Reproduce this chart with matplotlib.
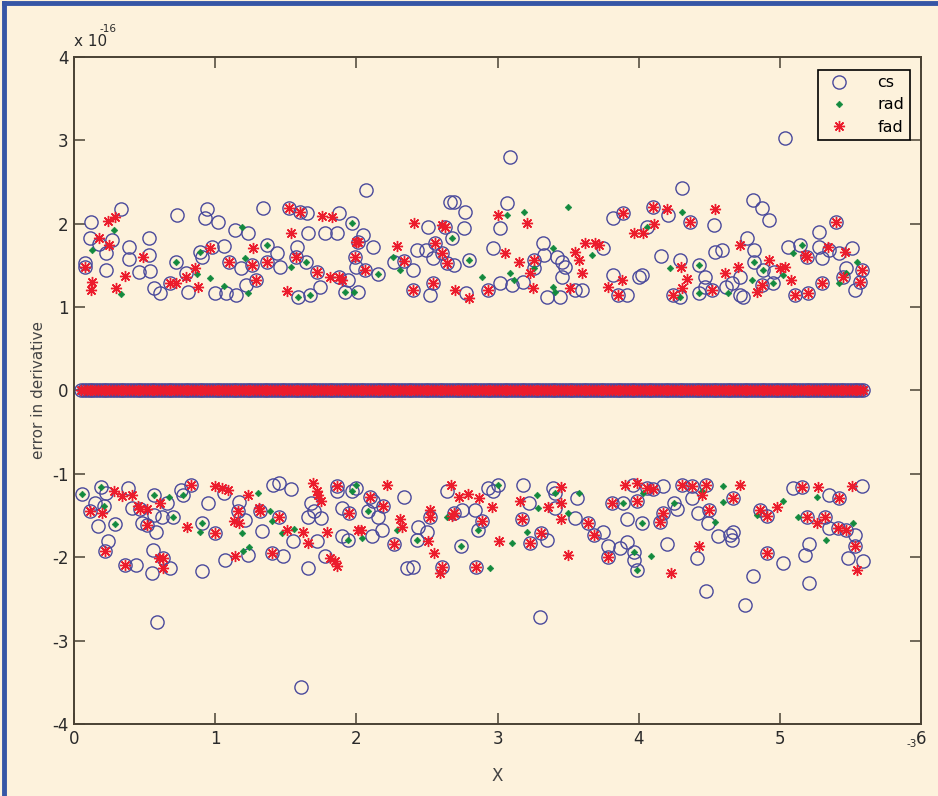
import numpy as np
import matplotlib
matplotlib.use("Agg")
import matplotlib.pyplot as plt
from matplotlib.lines import Line2D

# x in units of 1e-3, y in units of 1e-16
x_zero_grid = np.arange(0.05, 5.61, 0.02)  # sample points where the error is exactly zero

cs_pts = [
    (0.12,2.02),(0.33,2.18),(0.11,1.83),(0.08,1.53),(0.08,1.48),(0.23,1.65),(0.23,1.44),(0.27,1.80),(0.39,1.72),(0.39,1.58),
    (0.53,1.83),(0.53,1.62),(0.46,1.42),(0.54,1.43),(0.57,1.23),(0.61,1.17),(0.73,2.10),(0.72,1.54),(0.79,1.41),(0.81,1.18),
    (0.68,1.29),(0.94,2.18),(0.93,2.07),(1.02,2.02),(0.89,1.66),(0.91,1.60),(0.98,1.72),(1.06,1.73),(1.00,1.17),(1.08,1.17),
    (1.15,1.15),(1.14,1.93),(1.23,1.89),(1.10,1.54),(1.18,1.47),(1.26,1.50),(1.22,1.26),(1.29,1.33),(1.34,2.19),(1.37,1.74),
    (1.44,1.65),(1.37,1.54),(1.46,1.48),(1.52,2.19),(1.60,2.14),(1.65,2.13),(1.58,1.72),(1.57,1.60),(1.66,1.89),(1.64,1.54),
    (1.59,1.12),(1.67,1.15),(1.74,1.24),(1.72,1.42),(1.78,1.89),(1.86,1.89),(1.88,2.13),(1.97,2.01),(1.88,1.36),(1.94,1.32),
    (1.92,1.18),(1.99,1.60),(2.00,1.48),(0.18,1.76),
    (2.07,2.40),(2.05,1.86),(2.01,1.78),(2.12,1.72),(2.06,1.44),(2.15,1.40),(2.01,1.18),(2.27,1.54),(2.34,1.55),(2.40,1.44),
    (2.43,1.68),(2.49,1.68),(2.54,1.59),(2.51,1.96),(2.56,1.77),(2.61,1.65),(2.64,1.53),(2.69,1.51),(2.66,2.26),(2.69,2.26),
    (2.77,2.14),(2.76,1.95),(2.63,1.96),(2.68,1.83),(2.54,1.29),(2.40,1.21),(2.52,1.15),(2.80,1.56),(2.78,1.17),(2.93,1.20),
    (2.97,1.71),(3.02,1.95),(3.07,2.25),(3.09,2.80),(3.02,1.29),(3.10,1.26),(3.18,1.30),(3.26,1.56),(3.32,1.77),(3.33,1.63),
    (3.26,1.47),(3.35,1.12),(3.44,1.12),(3.42,1.60),(3.46,1.54),(3.48,1.48),(3.46,1.36),(3.55,1.20),(3.60,1.20),(3.75,1.71),
    (3.82,2.07),(3.89,2.13),(3.82,1.38),(3.85,1.14),(3.92,1.14),(4.00,1.36),
    (5.04,3.03),(4.31,2.43),(4.10,2.20),(4.21,2.10),(4.36,2.02),(4.53,1.98),(4.06,1.96),(4.81,2.28),(4.87,2.19),(4.92,2.05),
    (5.40,2.02),(5.28,1.90),(4.77,1.83),(4.82,1.68),(4.54,1.66),(4.59,1.68),(4.16,1.61),(4.29,1.56),(4.43,1.50),(4.47,1.36),
    (5.06,1.72),(5.14,1.74),(5.28,1.72),(5.35,1.68),(5.42,1.65),(5.51,1.71),(5.30,1.59),(5.19,1.60),(4.82,1.54),(4.88,1.44),
    (4.96,1.42),(5.47,1.47),(5.45,1.36),(5.58,1.44),(5.57,1.30),(5.53,1.20),(5.30,1.29),(5.20,1.17),(5.11,1.15),(4.95,1.29),
    (4.87,1.26),(4.72,1.36),(4.66,1.29),(4.62,1.24),(4.72,1.15),(4.74,1.12),(4.52,1.20),(4.43,1.17),(4.47,1.24),(4.29,1.12),
    (4.24,1.15),(4.02,1.38),
    (0.06,-1.24),(0.19,-1.16),(0.23,-1.23),(0.15,-1.35),(0.21,-1.38),(0.11,-1.45),(0.17,-1.62),(0.24,-1.81),(0.22,-1.92),(0.29,-1.60),
    (0.36,-2.09),(0.44,-2.09),(0.38,-1.17),(0.41,-1.41),(0.47,-1.42),(0.48,-1.59),(0.52,-1.61),(0.58,-1.70),(0.56,-1.91),(0.55,-2.19),
    (0.63,-2.01),(0.68,-2.13),(0.59,-2.78),(0.57,-1.25),(0.66,-1.35),(0.62,-1.52),(0.57,-1.49),(0.70,-1.52),(0.76,-1.19),(0.77,-1.25),
    (0.83,-1.13),(0.95,-1.35),(0.91,-1.59),(0.91,-2.17),(1.00,-1.71),(1.06,-1.23),(1.07,-2.03),(1.17,-1.34),(1.16,-1.45),(1.21,-1.55),
    (1.33,-1.68),(1.23,-1.97),(1.32,-1.45),(1.41,-1.13),(1.45,-1.11),(1.54,-1.18),(1.45,-1.52),(1.55,-1.81),(1.40,-1.95),(1.48,-1.98),
    (1.66,-1.52),(1.70,-1.45),(1.75,-1.53),(1.72,-1.81),(1.66,-2.13),(1.68,-1.35),(1.78,-1.98),(1.86,-1.15),(1.86,-1.21),(1.90,-1.41),
    (1.95,-1.47),(1.90,-1.75),(1.97,-1.20),(1.94,-1.79),(1.61,-3.56),
    (2.00,-1.17),(2.08,-1.45),(2.10,-1.28),(2.12,-1.33),(2.19,-1.39),(2.15,-1.52),(2.18,-1.67),(2.11,-1.74),(2.27,-1.84),(2.34,-1.28),
    (2.36,-2.13),(2.40,-2.12),(2.43,-1.79),(2.44,-1.64),(2.50,-1.70),(2.52,-1.52),(2.61,-2.12),(2.64,-1.21),(2.69,-1.47),(2.75,-1.43),
    (2.74,-1.86),(2.84,-1.43),(2.89,-1.57),(2.86,-1.67),(2.85,-2.12),(2.93,-1.17),(3.00,-1.13),(2.97,-1.21),(3.18,-1.13),(3.17,-1.54),
    (3.22,-1.35),(3.23,-1.83),(3.31,-1.71),(3.35,-1.79),(3.30,-2.72),(3.39,-1.17),(3.41,-1.23),(3.41,-1.41),(3.56,-1.29),(3.55,-1.53),
    (3.64,-1.59),(3.68,-1.73),(3.75,-1.70),(3.78,-1.87),(3.87,-1.89),(3.78,-2.00),(3.81,-1.35),(3.89,-1.35),(3.96,-1.13),(3.99,-1.33),
    (3.92,-1.54),(3.92,-1.82),(3.97,-1.94),(3.97,-2.03),(3.99,-2.15),(4.02,-1.59),
    (4.06,-1.17),(4.10,-1.18),(4.17,-1.15),(4.15,-1.58),(4.17,-1.47),(4.25,-1.35),(4.27,-1.42),(4.20,-1.84),(4.31,-1.13),(4.38,-1.15),
    (4.38,-1.29),(4.48,-1.13),(4.42,-1.47),(4.49,-1.59),(4.50,-1.43),(4.41,-2.01),(4.48,-2.41),(4.56,-1.74),(4.65,-1.73),(4.67,-1.70),
    (4.66,-1.79),(4.67,-1.29),(4.75,-2.57),(4.81,-2.23),(4.86,-1.43),(4.91,-1.50),(4.91,-1.95),(5.02,-2.07),(5.09,-1.17),(5.16,-1.16),
    (5.19,-1.52),(5.21,-1.84),(5.18,-1.97),(5.21,-2.31),(5.32,-1.52),(5.35,-1.25),(5.42,-1.29),(5.35,-1.65),(5.41,-1.65),(5.47,-1.67),
    (5.53,-1.73),(5.53,-1.87),(5.48,-2.01),(5.59,-2.05),(5.58,-1.15),
]

rad_pts = [
    (0.72,1.54),(0.89,1.66),(1.37,1.74),(1.64,1.54),(1.59,1.12),(1.67,1.15),(1.97,2.01),(1.92,1.18),(2.15,1.40),(2.68,1.83),
    (2.80,1.56),(3.26,1.47),(4.06,1.96),(4.43,1.50),(4.82,1.54),(4.95,1.29),(4.43,1.17),(4.29,1.12),
    (0.28,1.93),(0.13,1.68),(0.33,1.16),(0.96,1.35),(1.06,1.25),(0.87,1.40),(1.21,1.59),(1.19,1.96),(1.23,1.17),(1.54,1.48),
    (1.98,1.18),(3.07,2.10),(3.19,2.14),(3.50,2.20),(2.89,1.36),(3.09,1.41),(2.26,1.60),(2.31,1.44),(3.39,1.24),(3.39,1.71),
    (3.67,1.63),(3.41,1.18),(3.12,1.32),(4.31,2.14),(4.22,1.47),(4.63,1.17),(4.80,1.32),(4.88,1.44),(5.02,1.39),(5.09,1.65),
    (5.16,1.74),(5.55,1.54),(5.42,1.29),(5.47,1.41),
    (0.06,-1.24),(0.19,-1.16),(0.21,-1.38),(0.29,-1.60),(0.57,-1.25),(0.70,-1.52),(0.77,-1.25),(0.91,-1.59),(1.97,-1.20),(1.94,-1.79),
    (2.08,-1.45),(2.43,-1.79),(2.74,-1.86),(2.86,-1.67),(3.00,-1.13),(3.41,-1.23),(3.89,-1.35),(3.97,-1.94),(3.99,-2.15),(4.02,-1.59),
    (4.25,-1.35),
    (0.67,-1.28),(0.89,-1.70),(1.19,-1.71),(1.20,-1.93),(1.24,-1.88),(1.30,-1.23),(1.39,-1.45),(1.40,-1.57),(1.47,-1.71),(1.56,-1.66),
    (2.00,-1.13),(2.04,-1.77),(2.29,-1.67),(2.64,-1.52),(2.95,-2.13),(3.10,-1.83),(3.21,-1.70),(3.28,-1.25),(3.29,-1.41),(3.50,-1.47),
    (3.58,-1.23),(4.03,-1.23),(4.09,-1.99),(4.45,-1.21),(4.60,-1.15),(4.60,-1.34),(4.54,-1.58),(4.84,-1.49),(5.02,-1.33),(5.13,-1.52),
    (5.26,-1.28),(5.33,-1.79),(5.52,-1.59),
]

fad_pts = [
    (0.08,1.48),(0.68,1.29),(1.10,1.54),(1.26,1.50),(1.29,1.33),(1.52,2.19),(1.60,2.14),(1.57,1.60),(1.72,1.42),(1.88,1.36),
    (1.99,1.60),(2.01,1.78),(2.06,1.44),(2.34,1.55),(2.56,1.77),(2.61,1.65),(2.64,1.53),(2.63,1.96),(2.54,1.29),(2.40,1.21),
    (2.93,1.20),(3.26,1.56),(3.89,2.13),(3.85,1.14),(4.10,2.20),(4.36,2.02),(5.40,2.02),(5.19,1.60),(5.45,1.36),(5.58,1.44),
    (5.57,1.30),(5.30,1.29),(5.20,1.17),(5.11,1.15),(4.87,1.26),(4.52,1.20),(4.24,1.15),
    (0.24,2.03),(0.29,2.08),(0.18,1.83),(0.25,1.75),(0.13,1.30),(0.12,1.21),(0.30,1.23),(0.36,1.37),(0.49,1.60),(0.72,1.29),
    (0.79,1.36),(0.86,1.47),(0.88,1.24),(0.96,1.71),(1.27,1.71),(1.37,1.54),(1.54,1.89),(1.51,1.19),(1.81,1.36),(1.76,2.09),
    (1.83,2.08),(2.00,1.78),(1.90,1.32),(2.41,2.01),(2.29,1.73),(2.61,1.98),(2.70,1.20),(2.80,1.11),(3.00,2.10),(3.21,2.01),
    (3.05,1.65),(3.15,1.54),(3.23,1.41),(3.25,1.23),(3.51,1.23),(3.60,1.41),(3.58,1.56),(3.55,1.66),(3.62,1.77),(3.69,1.77),
    (3.72,1.74),(3.78,1.24),(3.88,1.32),(3.97,1.89),(4.11,2.00),(4.03,1.89),(4.20,2.18),(4.54,2.18),(4.72,1.74),(4.30,1.48),
    (4.34,1.34),(4.31,1.23),(4.61,1.41),(4.70,1.48),(4.92,1.56),(5.00,1.47),(5.04,1.48),(5.08,1.32),(4.84,1.18),(5.18,1.63),
    (5.34,1.72),(5.46,1.66),
    (0.11,-1.45),(0.22,-1.92),(0.36,-2.09),(0.47,-1.42),(0.52,-1.61),(0.63,-2.01),(0.83,-1.13),(1.00,-1.71),(1.16,-1.45),(1.32,-1.45),
    (1.45,-1.52),(1.40,-1.95),(1.86,-1.15),(1.95,-1.47),(2.10,-1.28),(2.19,-1.39),(2.27,-1.84),(2.52,-1.52),(2.61,-2.12),(2.69,-1.47),
    (2.89,-1.57),(2.85,-2.12),(3.17,-1.54),(3.23,-1.83),(3.31,-1.71),(3.64,-1.59),(3.68,-1.73),(3.78,-2.00),(3.81,-1.35),(3.99,-1.33),
    (4.06,-1.17),(4.10,-1.18),(4.15,-1.58),(4.17,-1.47),(4.31,-1.13),(4.38,-1.15),(4.48,-1.13),(4.50,-1.43),(4.67,-1.29),(4.86,-1.43),
    (4.91,-1.50),(4.91,-1.95),(5.16,-1.16),(5.19,-1.52),(5.32,-1.52),(5.42,-1.29),(5.41,-1.65),(5.47,-1.67),(5.53,-1.87),
    (0.28,-1.20),(0.34,-1.27),(0.41,-1.25),(0.20,-1.47),(0.45,-1.39),(0.52,-1.42),(0.61,-1.35),(0.60,-2.01),(0.63,-2.13),(0.80,-1.64),
    (1.00,-1.15),(1.05,-1.17),(1.09,-1.19),(1.23,-1.25),(1.31,-1.41),(1.13,-1.57),(1.17,-1.59),(1.14,-1.99),(1.51,-1.67),(1.62,-1.70),
    (1.66,-1.83),(1.69,-1.11),(1.72,-1.20),(1.73,-1.25),(1.75,-1.33),(1.79,-1.70),(1.81,-2.01),(1.85,-2.05),(1.86,-2.11),(2.01,-1.67),
    (2.22,-1.13),(2.03,-1.67),(2.31,-1.54),(2.32,-1.64),(2.52,-1.43),(2.51,-1.80),(2.55,-1.95),(2.59,-2.19),(2.67,-1.13),(2.73,-1.28),
    (2.79,-1.24),(2.87,-1.29),(2.96,-1.40),(2.68,-1.51),(3.01,-1.80),(3.16,-1.33),(3.36,-1.40),(3.45,-1.16),(3.45,-1.35),(3.45,-1.54),
    (3.50,-1.97),(3.90,-1.13),(3.99,-1.11),(4.72,-1.13),(4.43,-1.87),(4.23,-2.19),(4.98,-1.40),(5.27,-1.16),(5.26,-1.59),(5.51,-1.15),
    (5.55,-2.15),(4.45,-1.25),
]

series_names = ["cs", "rad", "fad"]
x_ticks = [0, 1, 2, 3, 4, 5, 6]
y_ticks = [-4, -3, -2, -1, 0, 1, 2, 3, 4]

BG = "#fdf2dc"
SPINE = "#4a4234"
C_CS = "#4a4a9c"
C_RAD = "#138a3e"
C_FAD = "#ec1c2c"

fig = plt.figure(figsize=(9.38, 7.96), dpi=100, facecolor=BG)
ax = fig.add_axes([0.0789, 0.0905, 0.9030, 0.8379], facecolor=BG)

def series(pts):
    px = np.concatenate([x_zero_grid, [p[0] for p in pts]])
    py = np.concatenate([np.zeros_like(x_zero_grid), [p[1] for p in pts]])
    return px, py

x, y = series(cs_pts)
ax.plot(x, y, linestyle="none", marker="o", markersize=9.5, markerfacecolor="none",
        markeredgecolor=C_CS, markeredgewidth=1.0, label=series_names[0])
x, y = series(rad_pts)
ax.plot(x, y, linestyle="none", marker="D", markersize=3.4, color=C_RAD,
        markeredgewidth=0.4, label=series_names[1])
x, y = series(fad_pts)
ax.plot(x, y, linestyle="none", marker=(8, 2, 0), markersize=8, color=C_FAD,
        markeredgewidth=1.0, label=series_names[2])

ax.set_xlim(0, 6)
ax.set_ylim(-4, 4)
ax.set_xticks(x_ticks)
ax.set_yticks(y_ticks)
font = ["Liberation Sans Narrow", "DejaVu Sans"]
ax.set_xticklabels([str(t) for t in x_ticks], fontsize=12, family=font, color="#2a2a2a")
ax.set_yticklabels([str(t) for t in y_ticks], fontsize=12, family=font, color="#2a2a2a")
ax.tick_params(direction="in", length=8, width=1.1, color=SPINE, top=True, right=True, pad=4)
for s in ax.spines.values():
    s.set_color(SPINE)
    s.set_linewidth(1.4)

ax.set_xlabel("X", fontsize=12, family=font, color="#444444", labelpad=14)
ax.set_ylabel("error in derivative", fontsize=11, family=font, color="#444444", labelpad=4)

fig.text(74/938, 1-49/796, "x 10", fontsize=11, family=font, color="#2a2a2a", va="bottom", ha="left")
fig.text(100/938, 1-34/796, "-16", fontsize=7.5, family=font, color="#2a2a2a", va="bottom", ha="left")
fig.text(906/938, 1-749/796, "-3", fontsize=7.5, family=font, color="#2a2a2a", va="bottom", ha="left")

leg = ax.legend(loc="upper right", bbox_to_anchor=(0.987, 0.981), borderaxespad=0, frameon=True,
                fancybox=False, edgecolor="black", facecolor=BG, framealpha=1,
                handlelength=2.0, handletextpad=1.4, borderpad=0.35, labelspacing=0.45,
                prop={"family": font, "size": 11.5})
leg.get_frame().set_linewidth(1.2)

# blue frame on the left and top edges of the picture
fig.add_artist(Line2D([0.004, 0.004], [0, 0.996], transform=fig.transFigure, color="#3656a6", linewidth=3.5))
fig.add_artist(Line2D([0.004, 1.0], [0.996, 0.996], transform=fig.transFigure, color="#3656a6", linewidth=3.5))

fig.savefig("out.png", dpi=100, facecolor=BG)
